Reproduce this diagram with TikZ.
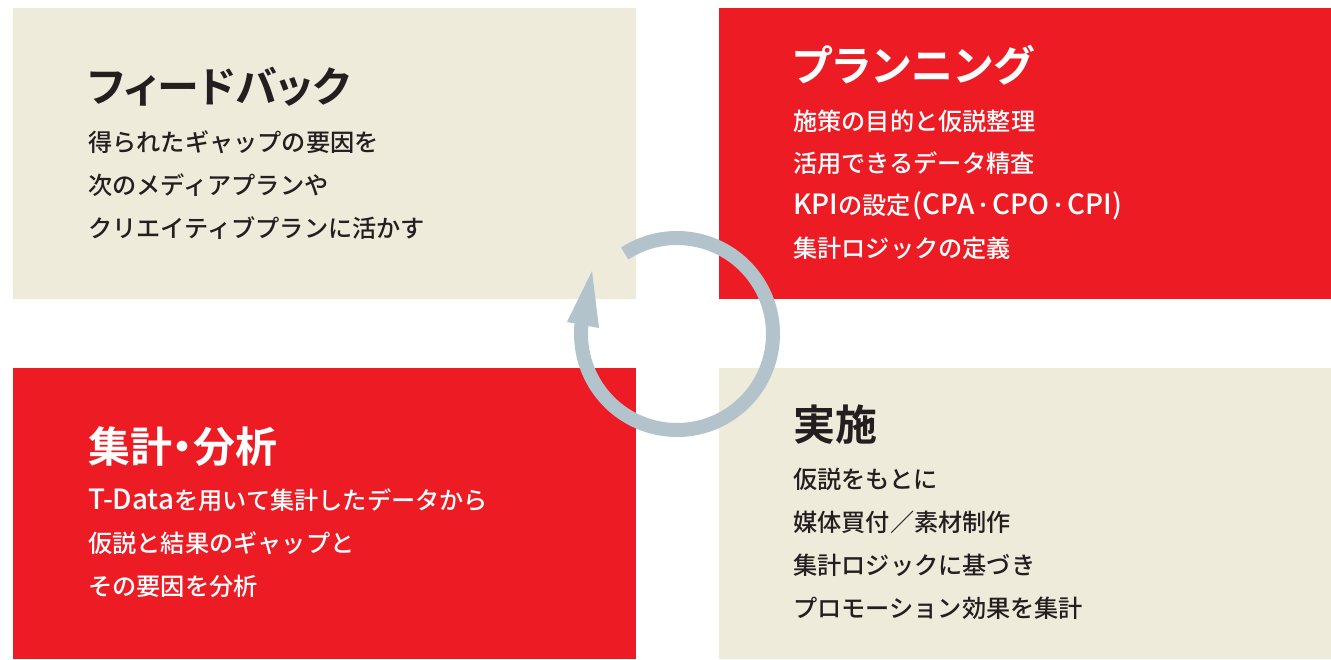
\documentclass[tikz,border=0pt]{standalone}
\usepackage{fontspec}
\newfontfamily\jpfont{Noto Sans CJK JP Medium}
\newfontfamily\jplat[Scale=1.15]{Noto Sans CJK JP Medium}
\newfontfamily\jpbold[RawFeature=+palt]{Noto Sans CJK JP Bold}
\definecolor{cred}{HTML}{ED1C24}
\definecolor{cbeige}{HTML}{EFEBDA}
\definecolor{carrow}{HTML}{B3C3CC}
\definecolor{cdark}{HTML}{231F20}
\tikzset{
  ttl/.style={anchor=west, inner sep=0pt, font=\jpbold\fontsize{42}{42}\selectfont},
  body/.style={anchor=west, inner sep=0pt, font=\jpfont\fontsize{24.2}{24.2}\selectfont},
  cyc/.style={carrow, line width=14pt}
}
\begin{document}
\begin{tikzpicture}[x=1pt,y=-1pt]
\useasboundingbox (0,0) rectangle (1331,659);
\fill[white] (0,0) rectangle (1331,659);
% panels
\fill[cbeige] (13,8) rectangle (636,299);
\fill[cred] (719,8) rectangle (1331,299);
\fill[cred] (13,368) rectangle (636,659);
\fill[cbeige] (719,368) rectangle (1331,659);
% cycle arrow
\coordinate (cc) at (677,334);
\draw[cyc] (cc) ++(237:96) arc[start angle=237, end angle=546, radius=96];
\fill[carrow] (567,322) -- (592,271) -- (599,328) -- cycle;
% top-left
\node[ttl, text=cdark] (t1) at (88,87) {フィードバック};
\node[body, text=cdark] (a1) at (88,142) {得られたギャップの要因を};
\node[body, text=cdark] (a2) at (88,185) {次のメディアプランや};
\node[body, text=cdark] (a3) at (88,228) {クリエイティブプランに活かす};
% top-right
\node[ttl, text=white] (t2) at (793,65) {プ\kern1ptラ\kern1ptン\kern1ptニ\kern1ptン\kern1ptグ};
\node[body, text=white] (b1) at (793,121) {施策の目的と仮説整理};
\node[body, text=white] (b2) at (793,163) {活用できるデータ精査};
\node[body, text=white] (b3) at (793,206) {{\jplat KPI}の設定{\jplat\kern2pt(CPA}\kern3pt･\kern3pt{\jplat CPO}\kern3pt･\kern3pt{\jplat CPI)}};
\node[body, text=white] (b4) at (793,248) {集計ロジックの定義};
% bottom-left
\node[ttl, text=white] (t3) at (88,447) {集計・分析};
\node[body, text=white] (c1) at (88,500) {{\jplat T-Data}を用いて集計したデータから};
\node[body, text=white] (c2) at (88,543) {仮説と結果のギャップと};
\node[body, text=white] (c3) at (88,586) {その要因を分析};
% bottom-right
\node[ttl, text=cdark] (t4) at (793,425) {実施};
\node[body, text=cdark] (d1) at (793,479) {仮説をもとに};
\node[body, text=cdark] (d2) at (793,522) {媒体買付／素材制作};
\node[body, text=cdark] (d3) at (793,565) {集計ロジックに基づき};
\node[body, text=cdark] (d4) at (793,608) {プロモーション効果を集計};
\end{tikzpicture}
\end{document}
